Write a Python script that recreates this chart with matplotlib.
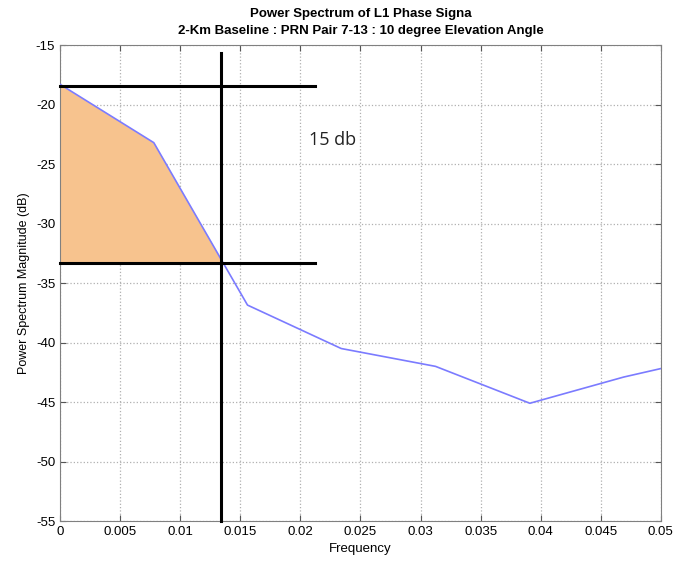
import numpy as np
import matplotlib.pyplot as plt
from matplotlib import rcParams

rcParams['font.family'] = ['Liberation Sans', 'DejaVu Sans']
rcParams['axes.unicode_minus'] = False

# spectrum samples (frequency bins of 1/128)
freq = [0.0, 0.0078, 0.0156, 0.0234, 0.03125, 0.0391, 0.0469, 0.0547]
power_db = [-18.3, -23.2, -36.85, -40.5, -42.0, -45.1, -42.9, -41.1]

# reference lines drawn over the spectrum
level_top = -18.4
level_bottom = -33.3
cut_freq = 0.0134
hline_end = 0.0212
vline_top = -15.7

fig = plt.figure(figsize=(6.75, 5.67), dpi=100)
ax = fig.add_axes([0.089, 0.081, 0.890, 0.8395])

# shaded area between the curve and the lower level, up to the cut frequency
f_fill = np.linspace(0, cut_freq, 100)
p_fill = np.interp(f_fill, freq, power_db)
ax.fill_between(f_fill, p_fill, level_bottom, color='#f7c38e', lw=0, zorder=2)

ax.plot(freq, power_db, color='#7b7bff', lw=1.2, zorder=3)

ax.plot([0, hline_end], [level_top, level_top], color='black', lw=2.2, zorder=4, clip_on=False)
ax.plot([0, hline_end], [level_bottom, level_bottom], color='black', lw=2.2, zorder=4, clip_on=False)
ax.plot([cut_freq, cut_freq], [vline_top, -55], color='black', lw=2.2, zorder=4, clip_on=False)

ax.text(0.0207, -23.0, '15 db', fontsize=13, family=['Open Sans', 'DejaVu Sans'],
        va='center', ha='left', color='#222222')

ax.set_xlim(0, 0.05)
ax.set_ylim(-55, -15)
ax.set_xticks(np.arange(0, 0.0501, 0.005))
ax.set_xticklabels(['0', '0.005', '0.01', '0.015', '0.02', '0.025', '0.03',
                    '0.035', '0.04', '0.045', '0.05'])
ax.set_yticks(np.arange(-55, -14, 5))
ax.grid(True, color='#b0b0b0', linestyle=':', lw=0.9)
ax.tick_params(direction='in', top=True, right=True, labelsize=9.5, length=4, color='#555555')
for s in ax.spines.values():
    s.set_color('#808080')

ax.set_xlabel('Frequency', fontsize=9.5)
ax.set_ylabel('Power Spectrum Magnitude (dB)', fontsize=9)
ax.set_title('Power Spectrum of L1 Phase Signa\n2-Km Baseline : PRN Pair 7-13 : 10 degree Elevation Angle',
             fontsize=9.5, fontweight='bold', linespacing=1.5, pad=8)

fig.savefig('out.png', dpi=100)
